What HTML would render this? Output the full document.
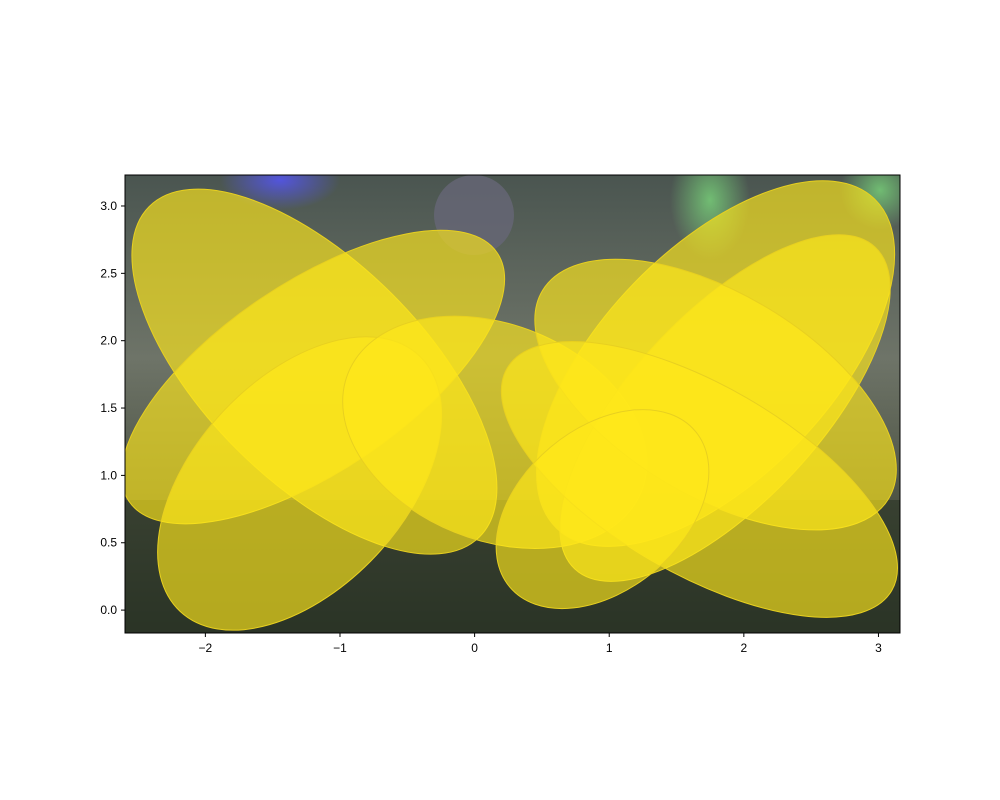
<!DOCTYPE html>
<html><head><meta charset="utf-8"><style>
body{margin:0;background:#fff;}
svg{display:block;font-family:"Liberation Sans",sans-serif;}
</style></head><body>
<svg id="chart" width="1000" height="800">
<defs>
<linearGradient id="bg" x1="0" y1="0" x2="0" y2="1">
<stop offset="0" stop-color="#4a5550"/><stop offset="0.4" stop-color="#6e7468"/><stop offset="0.75" stop-color="#4a5040"/><stop offset="1" stop-color="#2c3428"/>
</linearGradient>
<radialGradient id="g1"><stop offset="0" stop-color="#8f8" stop-opacity="0.6"/><stop offset="1" stop-color="#8f8" stop-opacity="0"/></radialGradient>
<radialGradient id="g2"><stop offset="0" stop-color="#55f" stop-opacity="0.8"/><stop offset="1" stop-color="#55f" stop-opacity="0"/></radialGradient>
<clipPath id="clip"><rect x="125" y="175" width="775" height="458"/></clipPath>
</defs>
<g clip-path="url(#clip)">
<rect x="125" y="175" width="775" height="458" fill="url(#bg)"/>
<ellipse cx="280" cy="180" rx="60" ry="30" fill="url(#g2)"/>
<ellipse cx="710" cy="200" rx="40" ry="60" fill="url(#g1)"/>
<ellipse cx="880" cy="190" rx="40" ry="40" fill="url(#g1)"/>
<rect x="125" y="500" width="775" height="133" fill="#2a3324" opacity="0.6"/>
<circle cx="474" cy="215" r="40" fill="#667" opacity="0.8"/>
</g>
<g id="ells" clip-path="url(#clip)"></g>
<rect x="125" y="175" width="775" height="458" fill="none" stroke="#000" stroke-width="1"/>
<g id="axes"></g>
</svg>
<script>
const xTicks=[-2,-1,0,1,2,3];
const yTicks=[0,0.5,1,1.5,2,2.5,3];
const cxs=[-1.19,-1.2,-1.3,0.15,1.79,1.86,1.79,1.67,0.95];
const cys=[1.77,1.73,0.94,1.32,1.83,1.5,1.6,0.97,0.75];
const widths=[3.47,3.3,2.6,2.35,3.4,3.27,3.0,3.3,1.8];
const heights=[1.63,1.4,1.56,1.6,1.7,1.4,1.5,1.4,1.2];
const angles=[-45,34,47,-22,46,47,-31,-30,40];
const X0=125,X1=900,Y0=633,Y1=175,xmin=-2.597,xmax=3.16,ymin=-0.17,ymax=3.23;
const sx=(X1-X0)/(xmax-xmin), sy=(Y0-Y1)/(ymax-ymin);
const xs=v=>X0+(v-xmin)*sx, ys=v=>Y0-(v-ymin)*sy;
const NS="http://www.w3.org/2000/svg";
const eg=document.getElementById('ells');
for(let i=0;i<cxs.length;i++){
 const e=document.createElementNS(NS,'ellipse');
 const cx=xs(cxs[i]),cy=ys(cys[i]);
 e.setAttribute('cx',cx);e.setAttribute('cy',cy);
 e.setAttribute('rx',widths[i]/2*sx);e.setAttribute('ry',heights[i]/2*sy);
 e.setAttribute('transform','rotate('+(-angles[i])+' '+cx+' '+cy+')');
 e.setAttribute('fill','#ffe81a');e.setAttribute('fill-opacity','0.65');
 e.setAttribute('stroke','#e8d020');e.setAttribute('stroke-width','1');
 
 
 eg.appendChild(e);
}
const ag=document.getElementById('axes');
xTicks.forEach(t=>{
 const x=xs(t);
 const l=document.createElementNS(NS,'line');
 l.setAttribute('x1',x);l.setAttribute('x2',x);l.setAttribute('y1',633);l.setAttribute('y2',637);l.setAttribute('stroke','#000');
 
 
 ag.appendChild(l);
 const tx=document.createElementNS(NS,'text');
 tx.setAttribute('x',x);tx.setAttribute('y',652);tx.setAttribute('text-anchor','middle');tx.setAttribute('font-size','12');
 tx.textContent=(t<0?'\u2212'+(-t):t);
 
 
 ag.appendChild(tx);
});
yTicks.forEach(t=>{
 const y=ys(t);
 const l=document.createElementNS(NS,'line');
 l.setAttribute('x1',121);l.setAttribute('x2',125);l.setAttribute('y1',y);l.setAttribute('y2',y);l.setAttribute('stroke','#000');
 
 
 ag.appendChild(l);
 const tx=document.createElementNS(NS,'text');
 tx.setAttribute('x',117);tx.setAttribute('y',y+4);tx.setAttribute('text-anchor','end');tx.setAttribute('font-size','12');
 tx.textContent=t.toFixed(1);
 
 
 ag.appendChild(tx);
});
</script>
</body></html>
